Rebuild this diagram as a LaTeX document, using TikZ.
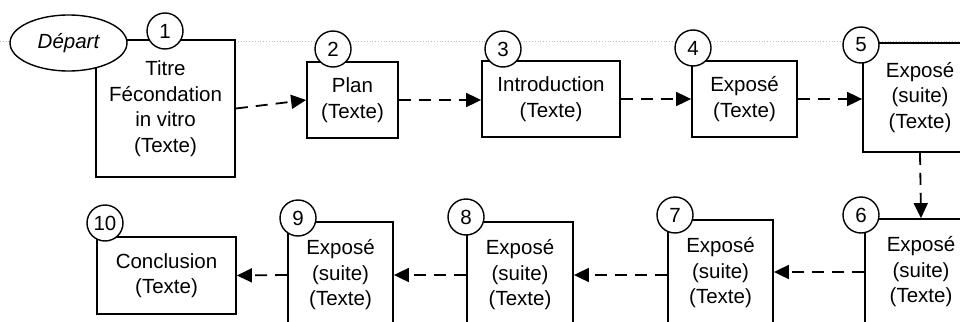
\documentclass[tikz,border=0pt]{standalone}
\usepackage{fontspec}
\setmainfont{Liberation Sans}
\usetikzlibrary{arrows.meta,shapes.geometric}
\newcommand\fsz{\fontsize{20.5}{25.5}\selectfont}
\tikzset{
 box/.style={draw, line width=1.8pt, fill=white, inner sep=0pt, align=center, font=\fsz},
 num/.style={draw, circle, line width=1.4pt, fill=white, minimum size=36pt, inner sep=0pt, font=\fsz},
 startnode/.style={draw, ellipse, line width=1.4pt, fill=white, minimum width=117pt, minimum height=56pt, inner sep=0pt, font=\fsz\itshape},
 link/.style={line width=1.8pt, dash pattern=on 12pt off 8pt, -{Triangle[length=15pt,width=14pt]}},
 guide/.style={draw=gray!50, dotted, line width=0.8pt},
}
\begin{document}
\begin{tikzpicture}[x=1pt,y=-1pt]
\clip (0,0) rectangle (960,321);
\useasboundingbox (0,0) rectangle (960,321);
\draw[guide] (0,41) -- (960,41);
% boxes
\node[box, minimum width=139pt, minimum height=137pt] (b1) at (165.5,108.5) {Titre\\Fécondation\\in vitro\\(Texte)};
\node[box, minimum width=91pt, minimum height=76pt] (b2) at (352.5,100) {Plan\\(Texte)};
\node[box, minimum width=138pt, minimum height=76pt] (b3) at (551,99) {Introduction\\(Texte)};
\node[box, minimum width=105pt, minimum height=76pt] (b4) at (744.5,99) {Exposé\\(Texte)};
\node[box, minimum width=114pt, minimum height=109pt] (b5) at (920,97.5) {Exposé\\(suite)\\(Texte)};
\node[box, minimum width=112pt, minimum height=106pt] (b6) at (921,272) {Exposé\\(suite)\\(Texte)};
\node[box, minimum width=105pt, minimum height=106pt] (b7) at (720.5,273) {Exposé\\(suite)\\(Texte)};
\node[box, minimum width=106pt, minimum height=106pt] (b8) at (520,275) {Exposé\\(suite)\\(Texte)};
\node[box, minimum width=105pt, minimum height=106pt] (b9) at (340.5,275) {Exposé\\(suite)\\(Texte)};
\node[box, minimum width=139pt, minimum height=77pt] (b10) at (166.5,275.5) {Conclusion\\(Texte)};
% number circles
\node[num] (c1) at (165,31) {1};
\node[num] (c2) at (333,49) {2};
\node[num] (c3) at (503,49) {3};
\node[num] (c4) at (693,48) {4};
\node[num] (c5) at (861,45) {5};
\node[num] (c6) at (861,215) {6};
\node[num] (c7) at (675,215) {7};
\node[num] (c8) at (466,217) {8};
\node[num] (c9) at (298,218) {9};
\node[num] (c10) at (105,223) {10};
% start
\node[startnode] (start) at (68.5,43) {Départ};
% connectors
\draw[link] (b1.east) -- (b2.west);
\draw[link] (b2.west -| b2.east) -- (b3.west |- b2.west);
\draw[link] (b3.east) -- (b4.west);
\draw[link] (b4.east) -- (b5.west |- b4.east);
\draw[link] (b5.south) -- (b6.north);
\draw[link] (b6.west) -- (b7.east |- b6.west);
\draw[link] (b7.west |- b8.east) -- (b8.east);
\draw[link] (b8.west) -- (b9.east);
\draw[link] (b9.west) -- (b10.east);
\end{tikzpicture}
\end{document}
